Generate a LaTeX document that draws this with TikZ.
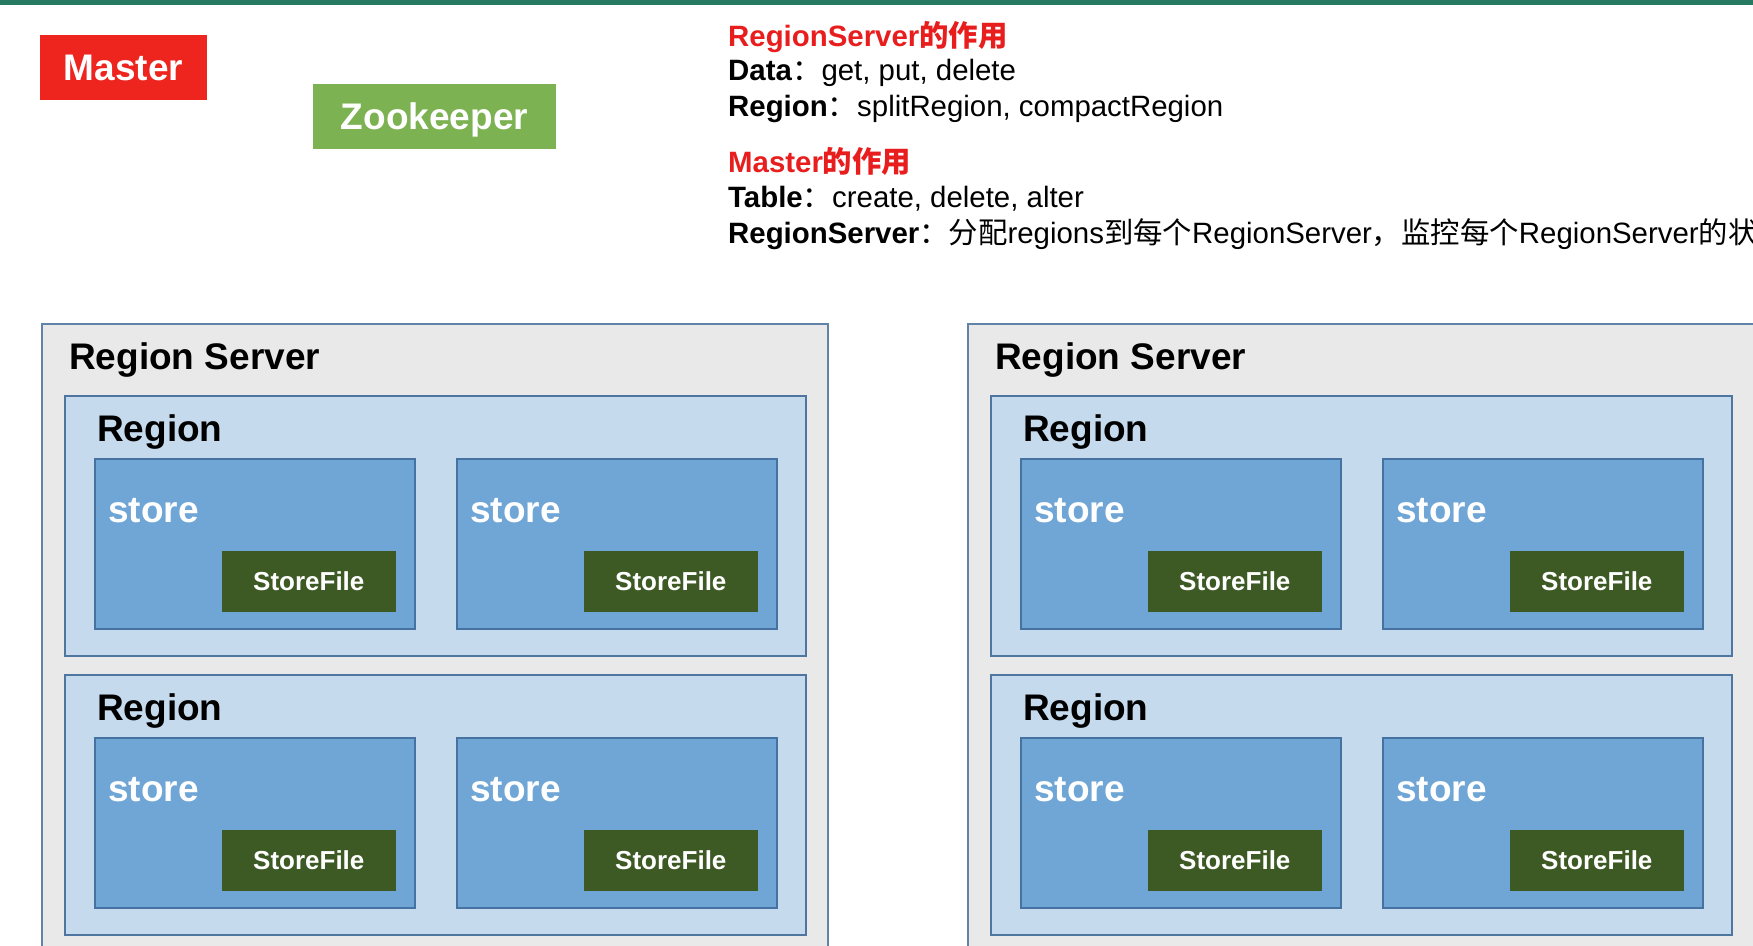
\documentclass[tikz,border=0pt]{standalone}
\usepackage{fontspec}
\setmainfont{Liberation Sans}
\newfontfamily\cjk{Noto Sans CJK SC}
\usetikzlibrary{positioning}
\definecolor{barteal}{RGB}{38,122,98}
\definecolor{masterred}{RGB}{238,36,30}
\definecolor{zkgreen}{RGB}{124,178,82}
\definecolor{rsgray}{RGB}{233,233,233}
\definecolor{rsline}{RGB}{96,132,168}
\definecolor{regionblue}{RGB}{198,218,238}
\definecolor{regionline}{RGB}{78,118,160}
\definecolor{storeblue}{RGB}{112,166,214}
\definecolor{storeline}{RGB}{70,114,162}
\definecolor{filegreen}{RGB}{62,90,36}
\definecolor{headred}{RGB}{232,30,30}

\begin{document}
\begin{tikzpicture}[x=1pt, y=-1pt,
  rsbox/.style={fill=rsgray, draw=rsline, line width=2pt, anchor=north west,
    minimum width=786pt, minimum height=700pt, inner sep=0pt},
  regionbox/.style={fill=regionblue, draw=regionline, line width=2pt, anchor=north west,
    minimum width=741pt, minimum height=260pt, inner sep=0pt},
  storebox/.style={fill=storeblue, draw=storeline, line width=2pt, anchor=north west,
    minimum width=320pt, minimum height=170pt, inner sep=0pt},
  filebox/.style={fill=filegreen, text=white, font=\fontsize{26}{30}\selectfont\bfseries,
    minimum width=174pt, minimum height=61pt, inner sep=0pt, anchor=south east},
  title/.style={font=\fontsize{37}{44}\selectfont\bfseries, anchor=base west, inner sep=0pt},
  tag/.style={text=white, font=\fontsize{37}{44}\selectfont\bfseries, inner sep=0pt,
    minimum height=65pt, text depth=0pt},
  note/.style={font=\fontsize{29.4}{34}\selectfont, anchor=base west, inner sep=0pt},
]
  \useasboundingbox (0,0) rectangle (1753,945);
  \clip (0,0) rectangle (1753,945);
  \fill[barteal] (0,0) rectangle (1753,5);

  % Master and Zookeeper
  \node[tag, fill=masterred, minimum width=167pt] (master) at (123.5,67.5) {Master};
  \node[tag, fill=zkgreen, minimum width=243pt] (zk) at (434.5,116.5) {Zookeeper};

  % roles
  \node[note, text=headred] (rsrole) at (728,46) {\bfseries RegionServer{\cjk 的作用}};
  \node[note] (rsdata) at (728,80) {\textbf{Data}{\cjk ：}get, put, delete};
  \node[note] (rsregion) at (728,116) {\textbf{Region}{\cjk ：}splitRegion, compactRegion};
  \node[note, text=headred] (mrole) at (728,172) {\bfseries Master{\cjk 的作用}};
  \node[note] (mtable) at (728,207) {\textbf{Table}{\cjk ：}create, delete, alter};
  \node[note] (mrs) at (728,243) {\textbf{RegionServer}{\cjk ：分配}regions{\cjk 到每个}RegionServer{\cjk ，监控每个}RegionServer{\cjk 的状}};

  % region servers
  \foreach \sx/\sn in {41/L, 967/R} {
    \node[rsbox] (rs\sn) at (\sx,323) {};
    \node[title] (rs\sn-t) at ([xshift=28pt,yshift=-46pt]rs\sn.north west) {Region Server};
    \foreach \ry/\rn in {72/1, 351/2} {
      \node[regionbox] (reg\sn\rn) at ([xshift=23pt,yshift=-\ry pt]rs\sn.north west) {};
      \node[title] (reg\sn\rn-t) at ([xshift=33pt,yshift=-46pt]reg\sn\rn.north west) {Region};
      \foreach \stx/\stn in {30/a, 392/b} {
        \node[storebox] (st\sn\rn\stn) at ([xshift=\stx pt,yshift=-63pt]reg\sn\rn.north west) {};
        \node[title, text=white] (st\sn\rn\stn-t) at ([xshift=14pt,yshift=-64pt]st\sn\rn\stn.north west) {store};
        \node[filebox] (sf\sn\rn\stn) at ([xshift=-20pt,yshift=18pt]st\sn\rn\stn.south east) {StoreFile};
      }
    }
  }
\end{tikzpicture}
\end{document}
